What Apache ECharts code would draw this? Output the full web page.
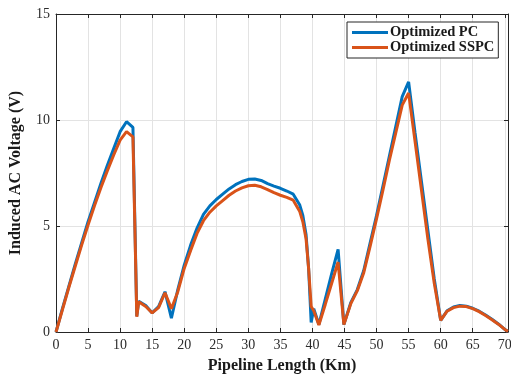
<!DOCTYPE html>
<html>
<head>
<meta charset="utf-8">
<script src="https://cdn.jsdelivr.net/npm/echarts@6/dist/echarts.min.js"></script>
<style>html,body{margin:0;padding:0;background:#fff}#c{width:511px;height:376px}</style>
</head>
<body>
<div id="c"></div>
<script>
var km = [0,1,2,3,4,5,6,7,8,9,10,11,12,12.6,12.9,14,15,16,17,18,19,20,21,22,23,24,25,26,27,28,29,30,31,32,33,34,35,36,37,38,38.5,39,39.4,39.8,40.2,41,42,43,44,44.9,46,47,48,49,50,51,52,53,54,55,56,57,58,59,60,61,62,63,64,65,66,67,68,69,70,70.5];
var optimizedPC = [0,1.1,2.15,3.2,4.2,5.2,6.1,7.0,7.85,8.65,9.45,9.92,9.65,0.75,1.45,1.25,0.9,1.2,1.9,0.65,2.0,3.15,4.1,4.9,5.55,5.95,6.25,6.5,6.75,6.95,7.1,7.2,7.22,7.15,7.0,6.88,6.78,6.65,6.5,6.0,5.5,4.6,3.0,0.45,1.1,0.35,1.55,2.75,3.9,0.35,1.4,2.0,2.9,4.2,5.5,6.9,8.3,9.7,11.1,11.8,9.4,7.1,4.8,2.5,0.55,1.0,1.18,1.25,1.22,1.12,0.98,0.8,0.6,0.38,0.12,0.03];
var optimizedSSPC = [0,1.05,2.1,3.1,4.1,5.05,5.95,6.8,7.6,8.35,9.05,9.45,9.2,0.72,1.43,1.2,0.9,1.15,1.85,1.1,1.9,3.0,3.85,4.65,5.25,5.65,5.95,6.2,6.45,6.65,6.8,6.9,6.92,6.85,6.72,6.57,6.45,6.35,6.22,5.7,5.2,4.4,3.0,1.2,1.0,0.33,1.3,2.3,3.3,0.35,1.35,1.95,2.8,4.05,5.35,6.7,8.1,9.4,10.7,11.27,9.0,6.7,4.4,2.3,0.55,0.98,1.15,1.22,1.2,1.1,0.96,0.78,0.58,0.37,0.12,0.03];
var seriesNames = ['Optimized PC','Optimized SSPC'];
var xTitle = 'Pipeline Length (Km)';
var yTitle = 'Induced AC Voltage (V)';

function pairs(ys){ return km.map(function(x,i){ return [x, ys[i]]; }); }
var serif = 'Liberation Serif';
var axisCol = '#262626';
var chart = echarts.init(document.getElementById('c'), null, {renderer:'canvas'});
var baseX = {type:'value', min:0, max:70.5, interval:5,
  axisLine:{show:true, onZero:false, lineStyle:{color:axisCol, width:1}},
  axisTick:{show:true, inside:true, length:4, lineStyle:{color:axisCol}},
  splitLine:{show:false}};
var baseY = {type:'value', min:0, max:15, interval:5,
  axisLine:{show:true, onZero:false, lineStyle:{color:axisCol, width:1}},
  axisTick:{show:true, inside:true, length:4, lineStyle:{color:axisCol}},
  splitLine:{show:false}};
chart.setOption({
  animation:false,
  backgroundColor:'#fff',
  grid:{left:56, right:3, top:14, bottom:44, containLabel:false, outerBoundsMode:'none'},
  legend:{show:true, orient:'vertical', left:347, top:22, padding:[3,4,3,5], itemGap:0,
    itemWidth:36, itemHeight:3, icon:'rect',
    borderColor:axisCol, borderWidth:1, backgroundColor:'#fff',
    textStyle:{fontFamily:serif, fontWeight:'bold', fontSize:14.5, color:'#1a1a1a', padding:[0,0,0,-3]},
    data:seriesNames},
  xAxis:[
    Object.assign({}, baseX, {position:'bottom',
      name:xTitle, nameLocation:'middle', nameGap:26,
      nameTextStyle:{fontFamily:serif, fontWeight:'bold', fontSize:16, color:'#1a1a1a'},
      axisLabel:{show:true, showMaxLabel:false, margin:6, fontFamily:serif, fontSize:14, color:'#2b2b2b'},
      splitLine:{show:true, lineStyle:{color:'#e3e3e3', width:1}}}),
    Object.assign({}, baseX, {position:'top', axisLabel:{show:false}})
  ],
  yAxis:[
    Object.assign({}, baseY, {position:'left',
      name:yTitle, nameLocation:'middle', nameGap:32, nameRotate:90,
      nameTextStyle:{fontFamily:serif, fontWeight:'bold', fontSize:16, color:'#1a1a1a'},
      axisLabel:{show:true, margin:6, fontFamily:serif, fontSize:14, color:'#2b2b2b'},
      splitLine:{show:true, lineStyle:{color:'#e3e3e3', width:1}}}),
    Object.assign({}, baseY, {position:'right', axisLabel:{show:false}})
  ],
  series:[
    {name:seriesNames[0], type:'line', xAxisIndex:0, yAxisIndex:0, data:pairs(optimizedPC),
      showSymbol:false, symbol:'none', lineStyle:{color:'#0072BD', width:3}, itemStyle:{color:'#0072BD'}, z:2},
    {name:seriesNames[1], type:'line', xAxisIndex:0, yAxisIndex:0, data:pairs(optimizedSSPC),
      showSymbol:false, symbol:'none', lineStyle:{color:'#D95319', width:3}, itemStyle:{color:'#D95319'}, z:3}
  ]
});
</script>
</body>
</html>
